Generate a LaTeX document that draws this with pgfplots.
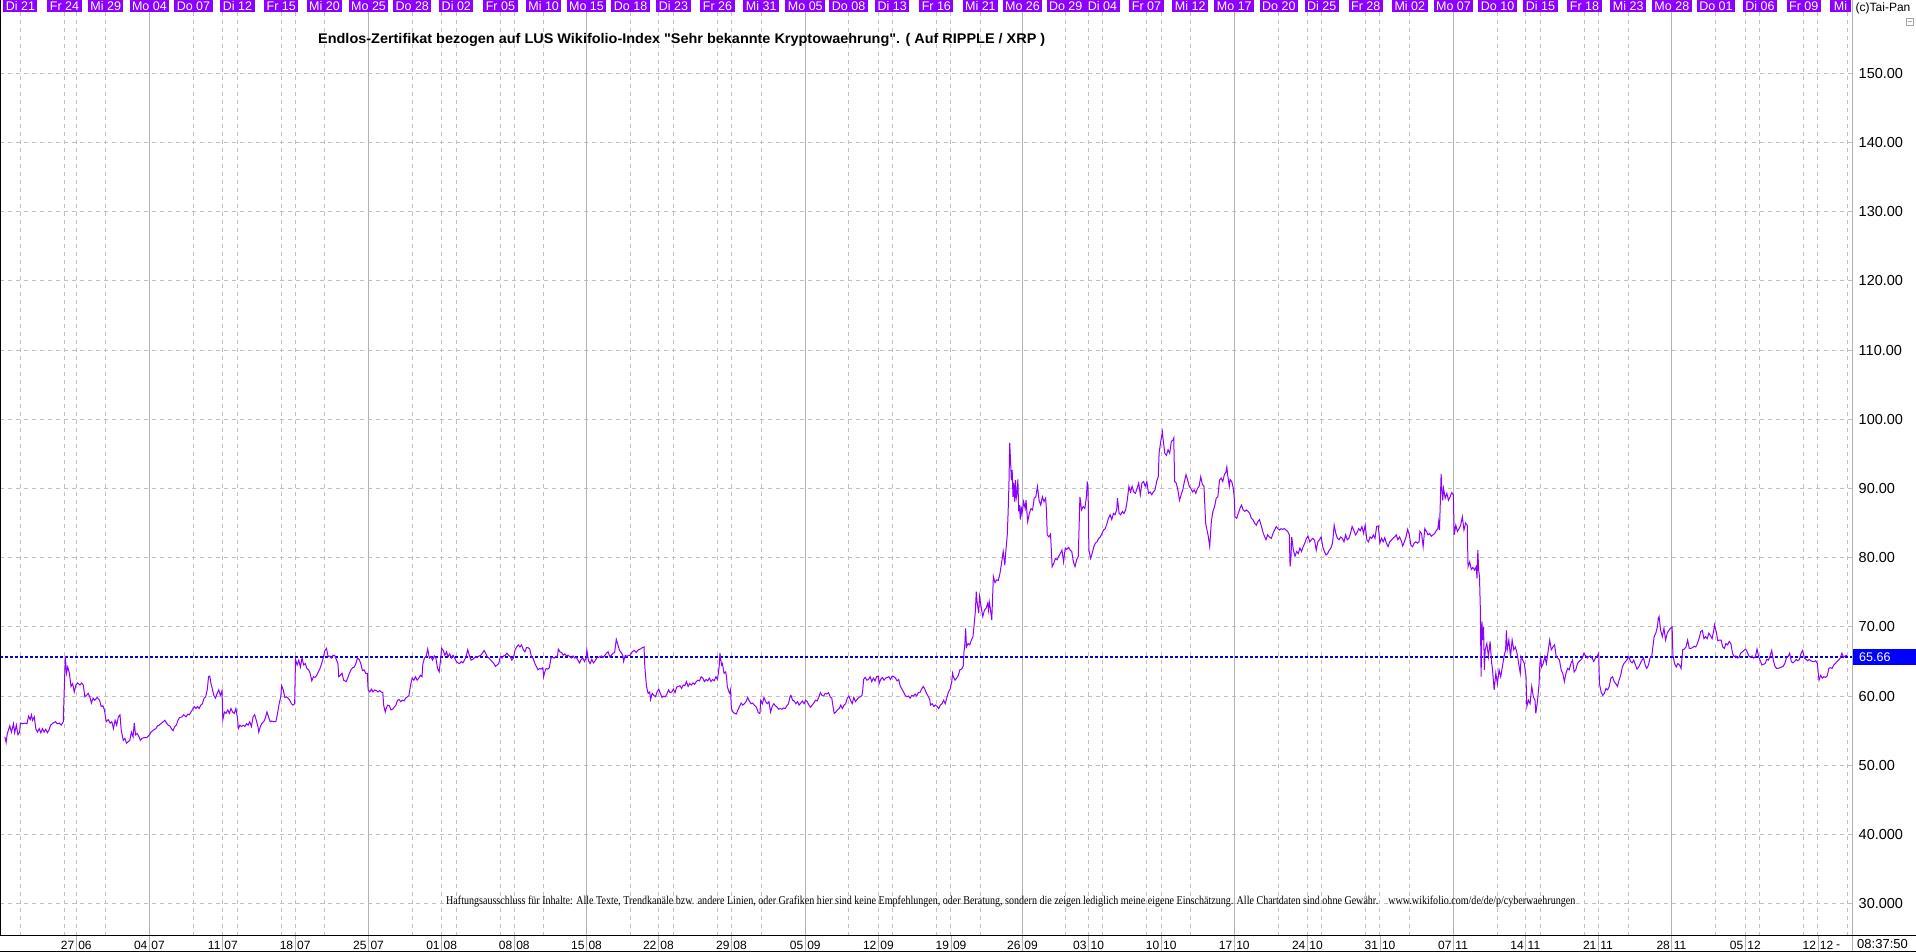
\documentclass[border=0pt]{standalone}
\usepackage{fontspec}
\setmainfont{Liberation Sans}
\newfontfamily\plainsans{Liberation Sans}
\newfontfamily\seriffont{Liberation Serif}
\usepackage{graphicx}
\usepackage{pgfplots}
\pgfplotsset{compat=1.18}
\definecolor{tpviolet}{RGB}{140,0,255}
\definecolor{tpgrid}{RGB}{192,192,192}
\definecolor{tpsolid}{RGB}{178,178,178}
\definecolor{tpblue}{RGB}{0,0,255}
\definecolor{tpdblue}{RGB}{0,0,210}
\begin{document}
\begin{tikzpicture}[x=1pt,y=1pt]
\path[use as bounding box] (0,0) rectangle (1916,952);
\begin{axis}[
 at={(0pt,16pt)}, anchor=south west,
 scale only axis, width=1852.5pt, height=936pt,
 xmin=0, xmax=4539, ymin=25.33, ymax=160.6,
 axis line style={draw=none},
 major tick length=0pt,
 xtick={50,158,187,259,474,545,582,689,723,795,1010,1082,1118,1226,1260,1332,1545,1613,1650,1758,1792,1865,2079,2152,2186,2294,2330,2402,2611,2667,2701,2809,2845,2916,3133,3203,3238,3346,3381,3454,3669,3738,3774,3882,3916,3989,4204,4276,4312,4419,4454,4526},
 xticklabels={},
 xticklabel style={text opacity=0},
 extra x ticks={366,903,1437,1973,2505,3024,3561,4096},
 extra x tick labels={},
 extra x tick style={grid=major, major grid style={solid, draw=tpsolid, line width=1pt}, xticklabel style={text opacity=0}},
 xmajorgrids, ymajorgrids,
 major grid style={draw=tpgrid, dash pattern=on 4pt off 4pt, line width=1pt},
 ytick={30,40,50,60,70,80,90,100,110,120,130,140,150},
 yticklabels={30.000,40.000,50.00,60.00,70.00,80.00,90.00,100.00,110.00,120.00,130.00,140.00,150.00},
 yticklabel pos=right,
 yticklabel style={font=\fontsize{14.5}{14.5}\selectfont, inner sep=0pt, anchor=west, xshift=6pt},
]
\addplot[tpdblue, line width=1.3pt, dash pattern=on 3pt off 2pt] coordinates {(0,65.66) (4539,65.66)};
\addplot[tpviolet, line width=1pt] coordinates {
(12,54.1)(15,53.3)(18,54.6)(24,55.7)(28,54.8)(33,56.0)(36,54.7)(40,55.8)(44,54.4)(48,54.8)(50,56.1)(56,56.0)(60,56.1)(66,56.0)(70,57.1)(74,56.6)(77,57.3)(80,56.5)(84,57.0)(88,55.2)(92,54.8)(96,55.3)(100,54.7)(104,55.3)(108,54.8)(112,55.2)(116,54.7)(120,55.1)(124,55.8)(130,56.1)(136,56.3)(140,56.0)(145,56.1)(150,55.8)(155,56.3)(157,60.1)(160,65.8)(163,63.3)(166,64.2)(170,63.3)(174,61.4)(178,61.8)(182,60.6)(186,61.6)(190,61.9)(196,61.6)(200,61.9)(204,61.6)(208,59.9)(212,60.1)(216,60.4)(220,59.9)(224,59.0)(228,59.7)(232,59.4)(238,59.8)(244,59.4)(248,58.5)(252,58.6)(256,58.0)(260,56.3)(265,56.6)(270,56.1)(274,56.3)(278,55.3)(282,56.5)(286,55.8)(290,57.0)(294,57.3)(297,55.1)(302,53.6)(306,53.9)(310,53.2)(314,53.4)(318,53.6)(322,54.8)(326,54.1)(329,56.1)(332,54.4)(336,54.6)(340,54.2)(344,53.6)(348,53.9)(354,54.0)(360,54.0)(366,54.4)(370,54.8)(376,55.1)(382,55.3)(386,55.7)(390,55.8)(396,56.1)(400,56.3)(404,56.5)(408,56.1)(412,55.8)(416,55.7)(420,55.3)(424,55.0)(428,55.6)(432,55.8)(436,56.5)(440,56.9)(446,57.0)(450,57.3)(456,57.0)(460,57.4)(464,57.3)(468,57.7)(472,58.1)(476,58.5)(480,58.2)(484,58.5)(488,58.2)(492,58.7)(496,58.9)(500,59.7)(504,59.9)(508,61.0)(511,62.8)(514,62.9)(517,61.8)(520,61.1)(524,60.1)(528,59.7)(532,60.4)(536,60.9)(540,60.1)(544,60.8)(546,56.6)(550,57.7)(554,57.5)(558,58.0)(562,57.5)(566,58.2)(570,57.7)(574,57.5)(578,58.2)(582,56.8)(584,55.3)(588,55.8)(592,55.6)(596,55.8)(600,55.6)(604,56.0)(608,55.8)(612,56.3)(616,55.6)(620,57.0)(624,57.3)(628,56.5)(632,55.6)(634,54.8)(638,55.6)(642,56.1)(646,56.3)(650,56.8)(654,57.7)(658,57.0)(662,56.3)(666,56.4)(670,56.3)(676,56.3)(680,57.5)(684,58.9)(688,59.9)(690,61.5)(694,60.9)(698,59.8)(702,59.9)(706,59.7)(710,59.4)(714,58.9)(718,58.7)(722,58.9)(724,65.3)(728,64.5)(732,65.2)(736,64.2)(740,65.5)(744,64.5)(748,64.7)(752,64.0)(756,63.8)(760,63.3)(764,62.2)(768,62.8)(772,62.7)(776,63.0)(780,63.5)(784,64.0)(788,64.7)(792,65.5)(796,66.6)(800,66.9)(804,65.7)(808,65.8)(812,65.5)(816,65.9)(820,65.9)(824,65.3)(828,64.7)(830,62.8)(834,63.0)(838,63.3)(842,62.3)(848,62.1)(852,62.6)(856,63.3)(860,63.8)(864,64.1)(868,64.2)(872,64.7)(876,65.5)(880,65.3)(884,64.7)(888,63.7)(892,63.8)(896,63.3)(900,63.3)(902,60.9)(906,60.6)(910,61.0)(914,60.6)(918,60.9)(922,60.8)(926,60.6)(930,60.8)(934,60.6)(938,60.5)(940,58.7)(944,57.7)(946,58.2)(950,58.7)(954,58.6)(958,58.0)(962,58.1)(966,58.4)(970,58.7)(974,59.4)(978,59.5)(982,59.2)(986,59.4)(990,59.3)(994,59.7)(998,59.9)(1002,60.1)(1006,61.6)(1010,62.6)(1014,62.3)(1018,62.8)(1022,62.3)(1026,62.6)(1030,63.0)(1034,62.8)(1036,64.6)(1040,65.5)(1044,65.7)(1048,66.8)(1052,65.5)(1056,65.7)(1060,65.2)(1064,65.8)(1068,65.5)(1072,64.0)(1076,63.5)(1080,65.5)(1082,66.9)(1086,66.6)(1090,65.9)(1094,66.4)(1098,65.7)(1102,66.1)(1106,65.5)(1110,65.9)(1114,65.5)(1118,65.0)(1122,64.8)(1126,64.7)(1130,65.0)(1134,64.8)(1138,65.2)(1142,65.7)(1146,66.7)(1150,65.9)(1154,65.2)(1158,65.3)(1162,65.5)(1166,65.7)(1170,65.6)(1174,65.8)(1178,65.9)(1182,66.2)(1186,66.6)(1190,66.2)(1194,65.7)(1198,65.5)(1202,65.2)(1206,65.0)(1210,64.7)(1214,64.3)(1218,64.5)(1222,64.7)(1226,65.7)(1230,65.5)(1234,65.8)(1238,65.9)(1242,66.2)(1246,65.9)(1250,65.7)(1254,65.2)(1258,65.5)(1262,66.7)(1266,67.1)(1270,67.4)(1274,67.1)(1278,67.4)(1282,66.7)(1286,66.4)(1290,67.0)(1294,67.0)(1298,66.8)(1302,65.7)(1306,65.5)(1310,64.8)(1314,64.3)(1318,63.8)(1322,64.0)(1326,63.9)(1330,64.1)(1332,62.8)(1334,63.3)(1338,64.0)(1342,63.9)(1346,64.1)(1350,65.5)(1354,65.6)(1358,65.5)(1362,65.7)(1366,65.8)(1368,66.8)(1372,66.4)(1376,66.3)(1380,65.9)(1384,66.1)(1388,65.8)(1392,65.9)(1396,65.7)(1400,65.5)(1404,65.8)(1408,65.5)(1412,65.6)(1416,65.2)(1420,64.8)(1424,65.3)(1428,65.5)(1432,65.0)(1436,65.5)(1438,66.6)(1442,65.1)(1446,64.7)(1450,65.3)(1454,64.8)(1458,65.1)(1462,65.5)(1466,65.6)(1470,65.7)(1474,65.8)(1478,65.6)(1482,65.9)(1486,66.2)(1490,66.4)(1494,65.7)(1498,65.9)(1502,66.2)(1506,66.3)(1510,68.2)(1514,67.4)(1518,66.6)(1522,66.3)(1526,65.9)(1528,65.0)(1532,65.9)(1536,65.7)(1540,65.9)
(1544,65.9)(1549,66.4)(1554,66.6)(1559,66.3)(1564,66.7)(1569,66.8)(1574,67.0)(1578,67.1)(1580,64.2)(1584,61.4)(1588,60.4)(1592,60.6)(1594,59.5)(1598,60.4)(1602,60.1)(1606,59.9)(1610,60.6)(1614,61.0)(1618,60.4)(1622,59.8)(1626,60.0)(1630,59.9)(1634,60.3)(1638,60.9)(1642,60.5)(1646,60.6)(1650,61.0)(1654,60.5)(1658,61.3)(1662,61.4)(1666,61.5)(1670,61.1)(1674,61.6)(1678,61.5)(1682,62.1)(1686,61.4)(1690,61.8)(1694,61.6)(1698,61.9)(1702,61.7)(1706,62.1)(1710,62.3)(1714,62.2)(1718,62.8)(1722,62.6)(1726,62.1)(1730,62.4)(1734,62.2)(1738,62.6)(1742,62.1)(1746,62.4)(1750,62.2)(1754,62.8)(1758,62.4)(1762,64.2)(1764,66.2)(1766,65.3)(1768,64.5)(1770,64.7)(1774,63.3)(1778,63.5)(1780,62.9)(1782,61.4)(1786,60.6)(1788,60.4)(1790,60.9)(1792,58.2)(1796,57.7)(1800,57.5)(1804,57.4)(1808,58.0)(1812,58.5)(1816,59.0)(1820,58.7)(1824,58.9)(1828,59.2)(1832,59.8)(1836,59.3)(1840,58.9)(1844,59.0)(1848,58.7)(1852,58.5)(1856,58.0)(1858,57.6)(1862,57.5)(1864,59.4)(1868,58.9)(1872,59.8)(1876,59.2)(1880,58.9)(1884,59.2)(1888,57.7)(1892,58.5)(1896,58.9)(1900,58.6)(1904,58.4)(1908,58.1)(1912,58.2)(1916,58.1)(1920,58.3)(1924,58.2)(1928,58.6)(1932,58.9)(1936,60.0)(1938,60.1)(1942,59.4)(1946,59.3)(1950,58.9)(1954,59.2)(1958,58.7)(1962,59.0)(1966,59.3)(1970,58.9)(1974,59.4)(1978,59.2)(1982,58.7)(1986,58.4)(1990,58.7)(1994,59.0)(1998,59.4)(2002,59.3)(2006,59.8)(2010,60.5)(2014,60.1)(2018,60.0)(2022,60.4)(2026,60.3)(2030,60.5)(2034,59.9)(2038,59.7)(2040,58.9)(2044,57.5)(2048,57.7)(2052,58.0)(2056,58.2)(2060,58.7)(2064,58.2)(2068,58.7)(2072,58.9)(2076,59.7)(2080,60.0)(2084,59.4)(2088,58.9)(2092,59.8)(2096,59.2)(2100,59.5)(2104,59.8)(2108,59.9)(2112,60.1)(2114,60.9)(2116,62.4)(2120,62.7)(2124,62.3)(2128,62.4)(2132,62.8)(2136,62.1)(2140,62.6)(2144,62.2)(2148,62.8)(2152,62.9)(2154,61.8)(2158,62.4)(2162,62.7)(2166,62.3)(2170,62.6)(2174,62.7)(2178,62.8)(2182,62.4)(2186,62.9)(2190,62.8)(2194,62.6)(2198,62.2)(2202,62.4)(2206,61.4)(2210,61.0)(2214,60.6)(2218,60.1)(2222,59.9)(2226,60.0)(2230,59.7)(2234,60.1)(2238,60.0)(2242,60.3)(2246,60.0)(2250,60.5)(2254,60.5)(2258,61.0)(2262,61.4)(2266,61.0)(2270,60.4)(2274,60.0)(2278,59.5)(2280,58.7)(2284,58.9)(2288,58.5)(2292,58.7)(2296,58.5)(2300,58.2)(2304,58.7)(2308,58.9)(2312,59.4)(2316,58.9)(2320,59.8)(2324,60.6)(2328,61.0)(2332,62.1)(2334,63.3)(2336,62.8)(2340,62.3)(2344,62.6)(2348,63.0)(2352,63.8)(2356,63.9)(2360,64.3)(2362,66.4)(2364,67.4)(2366,69.8)(2368,67.1)(2372,67.6)(2376,67.4)(2380,68.1)(2384,68.6)(2386,69.8)(2390,72.4)(2392,75.1)(2394,73.6)(2398,72.0)(2400,74.4)(2404,72.9)(2408,71.5)(2412,72.4)(2416,72.7)(2420,73.4)(2422,72.4)(2424,73.6)(2426,72.9)(2430,71.0)(2434,77.3)(2438,76.4)(2442,76.8)(2446,76.7)(2450,77.7)(2454,79.2)(2458,80.9)(2460,79.9)(2462,78.9)(2464,80.6)(2468,83.3)(2470,86.4)(2472,90.3)(2474,96.6)(2476,94.1)(2478,91.2)(2480,92.7)(2482,88.8)(2484,90.8)(2486,88.1)(2488,91.2)(2490,88.6)(2492,89.3)(2494,91.3)(2496,86.7)(2498,87.6)(2500,85.5)(2502,87.4)(2504,86.4)(2506,87.1)(2508,88.1)(2512,87.1)(2514,88.3)(2518,85.2)(2522,86.4)(2526,87.1)(2530,86.9)(2534,88.6)(2538,88.8)(2542,90.3)(2546,88.3)(2550,87.6)(2554,88.8)(2558,88.1)(2562,88.6)(2564,86.9)(2566,83.3)(2570,83.0)(2574,83.4)(2578,78.7)(2582,79.2)(2586,79.9)(2590,79.7)(2594,80.2)(2598,80.6)(2602,81.1)(2606,79.4)(2610,81.4)(2614,81.2)(2618,81.5)(2622,81.1)(2626,80.9)(2630,79.4)(2634,78.7)(2638,79.7)(2642,80.2)(2644,84.5)(2646,88.8)(2650,86.9)(2654,87.4)(2658,87.1)(2662,88.8)(2664,91.0)(2666,90.0)(2668,81.1)(2672,79.9)(2676,80.6)(2680,81.6)(2684,82.1)(2688,82.3)(2692,82.8)(2696,83.0)(2700,83.5)(2704,84.0)(2708,84.2)(2712,84.9)(2716,85.7)(2720,86.2)(2724,85.5)(2728,86.4)(2732,86.2)(2736,86.9)(2738,88.6)(2742,86.4)(2746,86.2)(2750,86.7)(2754,86.4)(2758,86.9)(2762,88.3)(2766,90.3)(2770,89.5)(2774,90.3)(2778,89.5)(2782,89.3)(2786,90.0)(2790,90.8)(2794,89.1)(2798,90.8)(2802,91.0)(2806,90.3)(2810,91.0)(2814,89.3)(2818,89.5)(2822,89.1)(2826,89.5)(2830,89.8)(2834,91.0)(2838,91.7)(2840,95.1)(2844,96.8)(2848,98.2)(2850,97.0)(2854,95.1)(2858,94.8)(2862,95.6)(2866,95.1)(2870,96.8)(2874,97.0)(2876,97.3)(2878,91.0)(2882,90.8)(2886,89.8)(2890,88.3)(2894,89.1)(2898,89.8)(2902,91.0)(2906,92.0)(2910,91.2)(2914,90.3)(2918,90.0)(2922,89.5)(2926,89.8)(2930,89.3)(2934,90.0)(2938,90.3)(2942,91.7)(2946,90.6)(2950,90.3)(2954,85.0)(2958,83.8)(2960,83.3)(2964,81.6)(2968,85.2)(2972,86.7)(2976,87.4)(2980,88.6)(2984,88.8)(2988,91.2)(2992,91.5)(2996,91.0)(3000,92.0)(3004,92.4)(3006,93.1)(3008,92.0)(3012,90.3)(3014,91.3)(3018,91.0)(3022,90.0)(3024,88.8)(3026,85.9)(3030,85.7)(3034,86.4)(3038,87.1)(3042,87.6)(3046,86.9)(3050,86.7)(3054,86.9)(3058,86.7)(3062,86.4)(3066,85.7)(3070,85.5)(3074,85.0)(3078,84.7)(3082,85.2)(3086,85.5)(3090,84.7)(3094,83.8)(3098,83.1)(3102,82.6)(3106,83.3)(3110,83.0)
(3115,82.8)(3119,83.5)(3123,84.0)(3127,84.5)(3131,84.2)(3135,84.0)(3139,84.2)(3143,84.1)(3147,84.2)(3151,84.0)(3155,83.8)(3159,83.3)(3161,78.7)(3163,79.9)(3165,83.0)(3169,81.1)(3173,80.2)(3177,80.9)(3181,80.6)(3185,81.4)(3189,80.9)(3193,81.6)(3197,82.1)(3201,82.8)(3205,83.1)(3209,82.3)(3213,82.6)(3217,82.8)(3221,82.5)(3225,81.1)(3229,82.3)(3233,82.6)(3237,83.0)(3241,81.6)(3245,80.9)(3249,80.4)(3253,80.6)(3257,81.1)(3261,81.4)(3265,82.1)(3269,84.7)(3273,83.5)(3277,82.8)(3281,82.6)(3285,83.0)(3289,82.8)(3293,82.3)(3297,83.3)(3301,82.6)(3305,82.8)(3309,83.5)(3313,84.5)(3317,84.0)(3321,83.3)(3325,83.6)(3329,84.2)(3333,83.9)(3337,84.5)(3341,83.5)(3345,84.7)(3349,82.6)(3353,82.3)(3357,83.0)(3361,82.8)(3365,83.3)(3369,82.8)(3373,84.5)(3377,84.6)(3381,82.1)(3385,82.8)(3389,82.3)(3393,82.9)(3397,82.1)(3401,81.6)(3405,82.3)(3409,82.5)(3413,82.8)(3417,83.0)(3421,83.3)(3425,82.6)(3429,83.0)(3433,82.5)(3437,81.7)(3441,82.3)(3445,83.0)(3449,84.1)(3453,83.3)(3457,81.8)(3461,81.6)(3465,82.1)(3469,82.3)(3473,82.1)(3477,82.3)(3479,83.8)(3483,83.5)(3487,81.6)(3491,84.2)(3495,83.8)(3499,83.3)(3503,83.5)(3507,83.1)(3511,83.3)(3515,83.5)(3519,83.9)(3523,84.2)(3525,85.2)(3527,84.0)(3529,87.9)(3531,92.1)(3533,89.8)(3535,88.3)(3537,90.0)(3541,88.6)(3545,89.3)(3549,88.3)(3553,88.8)(3557,89.4)(3561,89.1)(3563,83.3)(3567,84.7)(3571,83.8)(3575,84.2)(3579,84.7)(3583,85.9)(3587,84.0)(3591,85.0)(3595,84.7)(3597,78.7)(3601,79.4)(3605,78.3)(3609,78.6)(3613,78.2)(3617,78.7)(3619,77.0)(3621,81.1)(3623,78.2)(3625,77.3)(3627,72.9)(3629,62.8)(3631,70.8)(3633,68.1)(3635,70.0)(3637,63.8)(3639,66.7)(3643,67.6)(3647,65.7)(3651,67.9)(3655,64.7)(3657,63.8)(3661,60.9)(3665,63.3)(3669,61.8)(3673,63.8)(3677,62.8)(3681,64.2)(3685,65.7)(3689,66.7)(3691,69.5)(3693,66.7)(3697,68.1)(3701,65.7)(3705,68.1)(3709,66.7)(3713,67.1)(3717,66.2)(3721,64.7)(3725,63.3)(3727,65.7)(3731,65.2)(3735,64.7)(3739,62.8)(3741,58.5)(3745,59.4)(3749,58.9)(3753,61.4)(3757,59.9)(3761,59.4)(3763,57.5)(3767,59.2)(3771,61.8)(3773,64.7)(3775,65.7)(3777,64.2)(3781,64.7)(3785,65.7)(3789,64.7)(3793,66.4)(3797,68.1)(3801,66.7)(3805,67.1)(3809,67.4)(3813,65.7)(3817,65.5)(3821,65.2)(3825,63.8)(3829,63.3)(3833,62.1)(3837,63.3)(3841,64.0)(3845,63.8)(3849,64.7)(3853,65.2)(3857,63.5)(3861,63.8)(3865,64.7)(3869,65.0)(3873,65.2)(3877,65.5)(3881,66.2)(3885,65.8)(3889,65.5)(3893,65.7)(3897,65.8)(3901,65.5)(3905,65.0)(3909,65.5)(3913,65.7)(3917,66.2)(3919,61.8)(3923,60.6)(3927,60.1)(3931,60.4)(3935,61.1)(3939,60.9)(3943,61.4)(3947,62.6)(3951,62.8)(3955,62.1)(3959,61.8)(3963,61.4)(3967,62.3)(3971,63.0)(3975,64.2)(3979,64.7)(3983,65.0)(3987,65.3)(3991,65.7)(3995,65.0)(3999,64.8)(4003,65.2)(4007,64.5)(4011,63.9)(4015,64.2)(4019,64.7)(4023,65.2)(4027,65.5)(4031,64.5)(4035,64.0)(4039,64.5)(4043,65.5)(4047,65.7)(4049,66.7)(4053,68.6)(4057,69.1)(4061,70.0)(4063,71.2)(4065,71.5)(4069,69.5)(4073,68.6)(4077,69.8)(4081,68.1)(4085,69.1)(4089,69.5)(4093,69.8)(4097,70.0)(4099,65.9)(4103,64.7)(4107,64.2)(4111,64.7)(4115,64.5)(4119,64.0)(4123,66.7)(4127,66.8)(4131,67.1)(4135,68.1)(4139,66.9)(4143,66.9)(4147,67.0)(4151,67.2)(4155,67.1)(4159,67.6)(4163,68.3)(4167,69.3)(4171,69.5)(4175,68.3)(4179,68.6)(4183,68.3)(4187,69.1)(4191,68.7)(4195,68.3)(4199,69.5)(4201,70.3)(4205,69.3)(4209,68.0)(4213,68.1)(4217,68.1)(4221,67.1)(4225,66.9)(4229,67.6)(4233,67.4)(4237,67.9)(4241,67.6)(4245,66.2)(4249,65.7)(4253,65.8)(4257,65.5)(4261,65.6)(4265,66.2)(4269,66.4)(4273,66.6)(4277,66.8)(4281,66.4)(4285,65.8)(4289,65.6)(4293,65.8)(4297,65.5)(4301,65.7)(4305,66.8)(4309,65.7)(4313,65.1)(4317,64.5)(4321,64.6)(4325,64.7)(4329,65.3)(4333,65.2)(4337,65.8)(4341,66.6)(4345,65.2)(4349,64.3)(4353,64.0)(4357,64.0)(4361,64.1)(4365,64.2)(4369,64.3)(4373,64.7)(4377,65.5)(4381,65.7)(4385,66.2)(4389,65.0)(4393,64.8)(4397,65.0)(4401,65.3)(4405,65.1)(4409,65.3)(4413,66.2)(4417,66.6)(4421,65.5)(4425,65.3)(4429,65.1)(4433,65.3)(4437,65.1)(4441,65.0)(4445,65.0)(4449,65.1)(4453,64.7)(4455,63.3)(4457,62.3)(4461,63.0)(4465,62.6)(4469,62.8)(4473,62.7)(4477,62.9)(4481,64.0)(4485,64.1)(4489,64.0)(4493,64.5)(4497,64.7)(4501,65.0)(4505,65.2)(4509,65.5)(4513,66.2)(4517,65.6)(4521,65.8)(4525,65.9)
};
\end{axis}
% borders
\draw[black, line width=2pt] (0,16) -- (0,952);
\draw[tpsolid, line width=1pt] (1852.5,0) -- (1852.5,952);
\draw[black, line width=1pt] (0,16) -- (1916,16);
\draw[black, line width=1pt] (0,0.5) -- (1916,0.5);
% top date bar
\foreach \x/\lab in {50/Di 21,158/Fr 24,259/Mi 29,366/Mo 04,474/Do 07,582/Di 12,689/Fr 15,795/Mi 20,903/Mo 25,1010/Do 28,1118/Di 02,1226/Fr 05,1332/Mi 10,1437/Mo 15,1545/Do 18,1650/Di 23,1758/Fr 26,1865/Mi 31,1973/Mo 05,2079/Do 08,2186/Di 13,2294/Fr 16,2402/Mi 21,2505/Mo 26,2611/Do 29,2701/Di 04,2809/Fr 07,2916/Mi 12,3024/Mo 17,3133/Do 20,3238/Di 25,3346/Fr 28,3454/Mi 02,3561/Mo 07,3669/Do 10,3774/Di 15,3882/Fr 18,3989/Mi 23,4096/Mo 28,4204/Do 01,4312/Di 06,4419/Fr 09}
  \node[fill=tpviolet, text=white, inner xsep=2.5pt, inner ysep=0pt, minimum height=12pt, anchor=north, font=\fontsize{12.5}{12.5}\selectfont] at ({\x/2.45},952) {\lab};
% last, cut-off label at the right edge
\node[fill=tpviolet, text=white, inner xsep=2.5pt, inner ysep=0pt, minimum height=12pt, minimum width=21.5pt, anchor=north east, font=\fontsize{12.5}{12.5}\selectfont] at (1851.5,952) {Mi};
% bottom date labels
\foreach \x/\d/\m in {187/27/06,366/04/07,545/11/07,723/18/07,903/25/07,1082/01/08,1260/08/08,1437/15/08,1613/22/08,1792/29/08,1973/05/09,2152/12/09,2330/19/09,2505/26/09,2667/03/10,2845/10/10,3024/17/10,3203/24/10,3381/31/10,3561/07/11,3738/14/11,3916/21/11,4096/28/11,4276/05/12,4454/12/12} {
  \draw[tpsolid, line width=0.8pt] ({\x/2.45},1) -- ({\x/2.45},16);
  \node[anchor=base east, inner sep=0pt, font=\fontsize{12}{12}\selectfont] at ({\x/2.45-1.8},2.5) {\d};
  \node[anchor=base west, inner sep=0pt, font=\fontsize{12}{12}\selectfont] at ({\x/2.45+1.8},2.5) {\m};
}
\node[anchor=base, inner sep=0pt, font=\fontsize{12}{12}\selectfont] at (1838,3) {-};
\node[anchor=base west, inner sep=0pt, font=\fontsize{13}{13}\selectfont] at (1857,3) {08:37:50};
% right side
\node[anchor=base west, inner sep=0pt, font=\fontsize{12}{12}\selectfont] at (1855.5,940) {(c)Tai-Pan};
\draw[gray!70, line width=0.8pt] (1906,927) rectangle (1913,934);
\draw[gray!70, line width=0.8pt] (1907.5,930.5) -- (1911.5,930.5);
\fill[tpblue] (1853,287) rectangle (1916,303);
\node[anchor=west, inner sep=0pt, text=white, font=\fontsize{12.5}{12.5}\selectfont] at (1859,295) {65.66};
% title
\node[anchor=base west, inner sep=0pt] at (318,908) {\resizebox{727pt}{\height}{\plainsans\fontsize{14}{14}\selectfont\bfseries Endlos-Zertifikat bezogen auf LUS Wikifolio-Index "Sehr bekannte Kryptowaehrung". ( Auf RIPPLE / XRP )}};
% disclaimer
\node[anchor=base west, inner sep=0pt] at (446,47) {\resizebox{1129pt}{\height}{\seriffont\fontsize{12}{12}\selectfont Haftungsausschluss für Inhalte: Alle Texte, Trendkanäle bzw. andere Linien, oder Grafiken hier sind keine Empfehlungen, oder Beratung, sondern die zeigen lediglich meine eigene Einschätzung. Alle Chartdaten sind ohne Gewähr.\quad www.wikifolio.com/de/de/p/cyberwaehrungen}};
\end{tikzpicture}
\end{document}
